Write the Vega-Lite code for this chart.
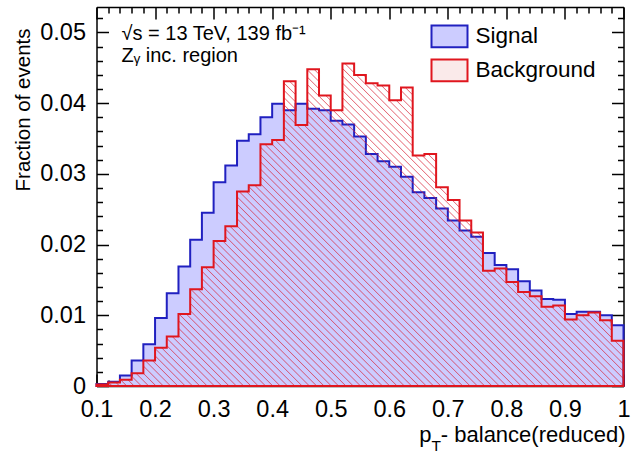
{
  "$schema": "https://vega.github.io/schema/vega-lite/v6.json",
  "width": 527,
  "height": 379,
  "autosize": {"type": "none"},
  "padding": {"left": 96.5, "top": 7, "right": 17.5, "bottom": 68},
  "config": {
    "view": {"stroke": null},
    "font": "Liberation Sans",
    "axis": {
      "grid": false,
      "zindex": 1,
      "tickColor": "black",
      "tickWidth": 1.5,
      "domainColor": "black",
      "domainWidth": 1.5,
      "labelFont": "Liberation Sans",
      "labelFontSize": 23.5,
      "labelColor": "black",
      "labelFlush": false,
      "labelOverlap": false,
      "titleFont": "Liberation Sans",
      "titleFontWeight": "normal",
      "titleColor": "black"
    },
    "legend": {
      "orient": "none",
      "legendX": 334,
      "legendY": 10.4,
      "padding": 0,
      "symbolType": "M-1,-0.6H1V0.6H-1Z",
      "symbolSize": 1296,
      "symbolStrokeWidth": 2,
      "symbolOpacity": 1,
      "rowPadding": -7.2,
      "labelOffset": 7,
      "labelFont": "Liberation Sans",
      "labelFontSize": 22.5,
      "labelColor": "black",
      "labelLimit": 0
    }
  },
  "title": {
    "text": ["√s = 13 TeV, 139 fb⁻¹", "Zᵧ inc. region"],
    "anchor": "start",
    "frame": "group",
    "baseline": "top",
    "offset": 0,
    "dx": 25,
    "dy": 60,
    "fontSize": 20,
    "fontWeight": "normal",
    "font": "Liberation Sans",
    "color": "black",
    "lineHeight": 22
  },
  "data": {
    "values": [
      {"x0": 0.10, "x1": 0.12, "Signal": 0.0003, "Background": 0.0002},
      {"x0": 0.12, "x1": 0.14, "Signal": 0.0006, "Background": 0.0005},
      {"x0": 0.14, "x1": 0.16, "Signal": 0.0015, "Background": 0.0009},
      {"x0": 0.16, "x1": 0.18, "Signal": 0.0036, "Background": 0.0018},
      {"x0": 0.18, "x1": 0.20, "Signal": 0.0059, "Background": 0.0036},
      {"x0": 0.20, "x1": 0.22, "Signal": 0.0096, "Background": 0.0054},
      {"x0": 0.22, "x1": 0.24, "Signal": 0.0131, "Background": 0.0070},
      {"x0": 0.24, "x1": 0.26, "Signal": 0.0169, "Background": 0.0102},
      {"x0": 0.26, "x1": 0.28, "Signal": 0.0207, "Background": 0.0137},
      {"x0": 0.28, "x1": 0.30, "Signal": 0.0245, "Background": 0.0168},
      {"x0": 0.30, "x1": 0.32, "Signal": 0.0288, "Background": 0.0205},
      {"x0": 0.32, "x1": 0.34, "Signal": 0.0312, "Background": 0.0226},
      {"x0": 0.34, "x1": 0.36, "Signal": 0.0347, "Background": 0.0275},
      {"x0": 0.36, "x1": 0.38, "Signal": 0.0356, "Background": 0.0284},
      {"x0": 0.38, "x1": 0.40, "Signal": 0.0380, "Background": 0.0342},
      {"x0": 0.40, "x1": 0.42, "Signal": 0.0399, "Background": 0.0348},
      {"x0": 0.42, "x1": 0.44, "Signal": 0.0390, "Background": 0.0431},
      {"x0": 0.44, "x1": 0.46, "Signal": 0.0399, "Background": 0.0369},
      {"x0": 0.46, "x1": 0.48, "Signal": 0.0392, "Background": 0.0448},
      {"x0": 0.48, "x1": 0.50, "Signal": 0.0390, "Background": 0.0411},
      {"x0": 0.50, "x1": 0.52, "Signal": 0.0375, "Background": 0.0390},
      {"x0": 0.52, "x1": 0.54, "Signal": 0.0370, "Background": 0.0456},
      {"x0": 0.54, "x1": 0.56, "Signal": 0.0353, "Background": 0.0440},
      {"x0": 0.56, "x1": 0.58, "Signal": 0.0328, "Background": 0.0428},
      {"x0": 0.58, "x1": 0.60, "Signal": 0.0318, "Background": 0.0425},
      {"x0": 0.60, "x1": 0.62, "Signal": 0.0310, "Background": 0.0404},
      {"x0": 0.62, "x1": 0.64, "Signal": 0.0296, "Background": 0.0422},
      {"x0": 0.64, "x1": 0.66, "Signal": 0.0274, "Background": 0.0326},
      {"x0": 0.66, "x1": 0.68, "Signal": 0.0266, "Background": 0.0328},
      {"x0": 0.68, "x1": 0.70, "Signal": 0.0251, "Background": 0.0281},
      {"x0": 0.70, "x1": 0.72, "Signal": 0.0234, "Background": 0.0263},
      {"x0": 0.72, "x1": 0.74, "Signal": 0.0220, "Background": 0.0234},
      {"x0": 0.74, "x1": 0.76, "Signal": 0.0211, "Background": 0.0217},
      {"x0": 0.76, "x1": 0.78, "Signal": 0.0188, "Background": 0.0163},
      {"x0": 0.78, "x1": 0.80, "Signal": 0.0171, "Background": 0.0166},
      {"x0": 0.80, "x1": 0.82, "Signal": 0.0165, "Background": 0.0147},
      {"x0": 0.82, "x1": 0.84, "Signal": 0.0148, "Background": 0.0133},
      {"x0": 0.84, "x1": 0.86, "Signal": 0.0135, "Background": 0.0127},
      {"x0": 0.86, "x1": 0.88, "Signal": 0.0123, "Background": 0.0112},
      {"x0": 0.88, "x1": 0.90, "Signal": 0.0122, "Background": 0.0114},
      {"x0": 0.90, "x1": 0.92, "Signal": 0.0102, "Background": 0.0094},
      {"x0": 0.92, "x1": 0.94, "Signal": 0.0105, "Background": 0.0100},
      {"x0": 0.94, "x1": 0.96, "Signal": 0.0105, "Background": 0.0104},
      {"x0": 0.96, "x1": 0.98, "Signal": 0.0100, "Background": 0.0093},
      {"x0": 0.98, "x1": 1.00, "Signal": 0.0086, "Background": 0.0064}
    ]
  },
  "transform": [
    {"fold": ["Signal", "Background"], "as": ["series", "frac"]},
    {"fold": ["x0", "x1"], "as": ["edge", "xpos"]}
  ],
  "layer": [
    {
      "transform": [{"filter": "datum.series === 'Signal'"}],
      "mark": {"type": "area", "strokeWidth": 2, "opacity": 1, "fillOpacity": 1},
      "encoding": {
        "x": {
          "field": "xpos", "type": "quantitative",
          "scale": {"domain": [0.1, 1], "nice": false, "zero": false},
          "axis": {
            "orient": "bottom",
            "values": [0.1, 0.2, 0.3, 0.4, 0.5, 0.6, 0.7, 0.8, 0.9, 1],
            "format": ".1~f",
            "tickSize": -12,
            "labelPadding": 23,
            "domain": true,
            "title": "- balance(reduced)",
            "titleX": 528.5,
            "titleY": 55,
            "titleAlign": "right",
            "titleBaseline": "alphabetic",
            "titleFontSize": 22
          }
        },
        "y": {
          "field": "frac", "type": "quantitative", "stack": null,
          "scale": {"domain": [0, 0.0536], "nice": false},
          "axis": {
            "orient": "left",
            "values": [0, 0.01, 0.02, 0.03, 0.04, 0.05],
            "format": ".2~f",
            "tickSize": -12,
            "labelPadding": 23,
            "domain": true,
            "title": "Fraction of events",
            "titleAngle": 270,
            "titleX": -67.5,
            "titleY": 21,
            "titleAlign": "right",
            "titleBaseline": "alphabetic",
            "titleFontSize": 20.5
          }
        },
        "stroke": {
          "field": "series", "type": "nominal",
          "scale": {"domain": ["Signal", "Background"], "range": ["#2020c0", "#e0161e"]},
          "legend": {"title": null}
        },
        "fill": {
          "field": "series", "type": "nominal",
          "scale": {"domain": ["Signal", "Background"], "range": ["#ccccff", "#faeaea"]},
          "legend": {"title": null}
        }
      }
    },
    {
      "transform": [{"filter": "datum.series === 'Background'"}],
      "mark": {
        "type": "area", "stroke": "#e0161e", "strokeWidth": 2, "opacity": 1,
        "fill": {
          "gradient": "linear", "x1": 0, "y1": 1, "x2": 1.0085, "y2": 0.383,
          "stops": [
            {"offset": 0, "color": "rgba(215,30,50,0)"}, {"offset": 0.0015, "color": "rgba(215,30,50,0.65)"}, {"offset": 0.003, "color": "rgba(215,30,50,0)"},
            {"offset": 0.01, "color": "rgba(215,30,50,0)"}, {"offset": 0.0115, "color": "rgba(215,30,50,0.65)"}, {"offset": 0.013, "color": "rgba(215,30,50,0)"},
            {"offset": 0.02, "color": "rgba(215,30,50,0)"}, {"offset": 0.0215, "color": "rgba(215,30,50,0.65)"}, {"offset": 0.023, "color": "rgba(215,30,50,0)"},
            {"offset": 0.03, "color": "rgba(215,30,50,0)"}, {"offset": 0.0315, "color": "rgba(215,30,50,0.65)"}, {"offset": 0.033, "color": "rgba(215,30,50,0)"},
            {"offset": 0.04, "color": "rgba(215,30,50,0)"}, {"offset": 0.0415, "color": "rgba(215,30,50,0.65)"}, {"offset": 0.043, "color": "rgba(215,30,50,0)"},
            {"offset": 0.05, "color": "rgba(215,30,50,0)"}, {"offset": 0.0515, "color": "rgba(215,30,50,0.65)"}, {"offset": 0.053, "color": "rgba(215,30,50,0)"},
            {"offset": 0.06, "color": "rgba(215,30,50,0)"}, {"offset": 0.0615, "color": "rgba(215,30,50,0.65)"}, {"offset": 0.063, "color": "rgba(215,30,50,0)"},
            {"offset": 0.07, "color": "rgba(215,30,50,0)"}, {"offset": 0.0715, "color": "rgba(215,30,50,0.65)"}, {"offset": 0.073, "color": "rgba(215,30,50,0)"},
            {"offset": 0.08, "color": "rgba(215,30,50,0)"}, {"offset": 0.0815, "color": "rgba(215,30,50,0.65)"}, {"offset": 0.083, "color": "rgba(215,30,50,0)"},
            {"offset": 0.09, "color": "rgba(215,30,50,0)"}, {"offset": 0.0915, "color": "rgba(215,30,50,0.65)"}, {"offset": 0.093, "color": "rgba(215,30,50,0)"},
            {"offset": 0.10, "color": "rgba(215,30,50,0)"}, {"offset": 0.1015, "color": "rgba(215,30,50,0.65)"}, {"offset": 0.103, "color": "rgba(215,30,50,0)"},
            {"offset": 0.11, "color": "rgba(215,30,50,0)"}, {"offset": 0.1115, "color": "rgba(215,30,50,0.65)"}, {"offset": 0.113, "color": "rgba(215,30,50,0)"},
            {"offset": 0.12, "color": "rgba(215,30,50,0)"}, {"offset": 0.1215, "color": "rgba(215,30,50,0.65)"}, {"offset": 0.123, "color": "rgba(215,30,50,0)"},
            {"offset": 0.13, "color": "rgba(215,30,50,0)"}, {"offset": 0.1315, "color": "rgba(215,30,50,0.65)"}, {"offset": 0.133, "color": "rgba(215,30,50,0)"},
            {"offset": 0.14, "color": "rgba(215,30,50,0)"}, {"offset": 0.1415, "color": "rgba(215,30,50,0.65)"}, {"offset": 0.143, "color": "rgba(215,30,50,0)"},
            {"offset": 0.15, "color": "rgba(215,30,50,0)"}, {"offset": 0.1515, "color": "rgba(215,30,50,0.65)"}, {"offset": 0.153, "color": "rgba(215,30,50,0)"},
            {"offset": 0.16, "color": "rgba(215,30,50,0)"}, {"offset": 0.1615, "color": "rgba(215,30,50,0.65)"}, {"offset": 0.163, "color": "rgba(215,30,50,0)"},
            {"offset": 0.17, "color": "rgba(215,30,50,0)"}, {"offset": 0.1715, "color": "rgba(215,30,50,0.65)"}, {"offset": 0.173, "color": "rgba(215,30,50,0)"},
            {"offset": 0.18, "color": "rgba(215,30,50,0)"}, {"offset": 0.1815, "color": "rgba(215,30,50,0.65)"}, {"offset": 0.183, "color": "rgba(215,30,50,0)"},
            {"offset": 0.19, "color": "rgba(215,30,50,0)"}, {"offset": 0.1915, "color": "rgba(215,30,50,0.65)"}, {"offset": 0.193, "color": "rgba(215,30,50,0)"},
            {"offset": 0.20, "color": "rgba(215,30,50,0)"}, {"offset": 0.2015, "color": "rgba(215,30,50,0.65)"}, {"offset": 0.203, "color": "rgba(215,30,50,0)"},
            {"offset": 0.21, "color": "rgba(215,30,50,0)"}, {"offset": 0.2115, "color": "rgba(215,30,50,0.65)"}, {"offset": 0.213, "color": "rgba(215,30,50,0)"},
            {"offset": 0.22, "color": "rgba(215,30,50,0)"}, {"offset": 0.2215, "color": "rgba(215,30,50,0.65)"}, {"offset": 0.223, "color": "rgba(215,30,50,0)"},
            {"offset": 0.23, "color": "rgba(215,30,50,0)"}, {"offset": 0.2315, "color": "rgba(215,30,50,0.65)"}, {"offset": 0.233, "color": "rgba(215,30,50,0)"},
            {"offset": 0.24, "color": "rgba(215,30,50,0)"}, {"offset": 0.2415, "color": "rgba(215,30,50,0.65)"}, {"offset": 0.243, "color": "rgba(215,30,50,0)"},
            {"offset": 0.25, "color": "rgba(215,30,50,0)"}, {"offset": 0.2515, "color": "rgba(215,30,50,0.65)"}, {"offset": 0.253, "color": "rgba(215,30,50,0)"},
            {"offset": 0.26, "color": "rgba(215,30,50,0)"}, {"offset": 0.2615, "color": "rgba(215,30,50,0.65)"}, {"offset": 0.263, "color": "rgba(215,30,50,0)"},
            {"offset": 0.27, "color": "rgba(215,30,50,0)"}, {"offset": 0.2715, "color": "rgba(215,30,50,0.65)"}, {"offset": 0.273, "color": "rgba(215,30,50,0)"},
            {"offset": 0.28, "color": "rgba(215,30,50,0)"}, {"offset": 0.2815, "color": "rgba(215,30,50,0.65)"}, {"offset": 0.283, "color": "rgba(215,30,50,0)"},
            {"offset": 0.29, "color": "rgba(215,30,50,0)"}, {"offset": 0.2915, "color": "rgba(215,30,50,0.65)"}, {"offset": 0.293, "color": "rgba(215,30,50,0)"},
            {"offset": 0.30, "color": "rgba(215,30,50,0)"}, {"offset": 0.3015, "color": "rgba(215,30,50,0.65)"}, {"offset": 0.303, "color": "rgba(215,30,50,0)"},
            {"offset": 0.31, "color": "rgba(215,30,50,0)"}, {"offset": 0.3115, "color": "rgba(215,30,50,0.65)"}, {"offset": 0.313, "color": "rgba(215,30,50,0)"},
            {"offset": 0.32, "color": "rgba(215,30,50,0)"}, {"offset": 0.3215, "color": "rgba(215,30,50,0.65)"}, {"offset": 0.323, "color": "rgba(215,30,50,0)"},
            {"offset": 0.33, "color": "rgba(215,30,50,0)"}, {"offset": 0.3315, "color": "rgba(215,30,50,0.65)"}, {"offset": 0.333, "color": "rgba(215,30,50,0)"},
            {"offset": 0.34, "color": "rgba(215,30,50,0)"}, {"offset": 0.3415, "color": "rgba(215,30,50,0.65)"}, {"offset": 0.343, "color": "rgba(215,30,50,0)"},
            {"offset": 0.35, "color": "rgba(215,30,50,0)"}, {"offset": 0.3515, "color": "rgba(215,30,50,0.65)"}, {"offset": 0.353, "color": "rgba(215,30,50,0)"},
            {"offset": 0.36, "color": "rgba(215,30,50,0)"}, {"offset": 0.3615, "color": "rgba(215,30,50,0.65)"}, {"offset": 0.363, "color": "rgba(215,30,50,0)"},
            {"offset": 0.37, "color": "rgba(215,30,50,0)"}, {"offset": 0.3715, "color": "rgba(215,30,50,0.65)"}, {"offset": 0.373, "color": "rgba(215,30,50,0)"},
            {"offset": 0.38, "color": "rgba(215,30,50,0)"}, {"offset": 0.3815, "color": "rgba(215,30,50,0.65)"}, {"offset": 0.383, "color": "rgba(215,30,50,0)"},
            {"offset": 0.39, "color": "rgba(215,30,50,0)"}, {"offset": 0.3915, "color": "rgba(215,30,50,0.65)"}, {"offset": 0.393, "color": "rgba(215,30,50,0)"},
            {"offset": 0.40, "color": "rgba(215,30,50,0)"}, {"offset": 0.4015, "color": "rgba(215,30,50,0.65)"}, {"offset": 0.403, "color": "rgba(215,30,50,0)"},
            {"offset": 0.41, "color": "rgba(215,30,50,0)"}, {"offset": 0.4115, "color": "rgba(215,30,50,0.65)"}, {"offset": 0.413, "color": "rgba(215,30,50,0)"},
            {"offset": 0.42, "color": "rgba(215,30,50,0)"}, {"offset": 0.4215, "color": "rgba(215,30,50,0.65)"}, {"offset": 0.423, "color": "rgba(215,30,50,0)"},
            {"offset": 0.43, "color": "rgba(215,30,50,0)"}, {"offset": 0.4315, "color": "rgba(215,30,50,0.65)"}, {"offset": 0.433, "color": "rgba(215,30,50,0)"},
            {"offset": 0.44, "color": "rgba(215,30,50,0)"}, {"offset": 0.4415, "color": "rgba(215,30,50,0.65)"}, {"offset": 0.443, "color": "rgba(215,30,50,0)"},
            {"offset": 0.45, "color": "rgba(215,30,50,0)"}, {"offset": 0.4515, "color": "rgba(215,30,50,0.65)"}, {"offset": 0.453, "color": "rgba(215,30,50,0)"},
            {"offset": 0.46, "color": "rgba(215,30,50,0)"}, {"offset": 0.4615, "color": "rgba(215,30,50,0.65)"}, {"offset": 0.463, "color": "rgba(215,30,50,0)"},
            {"offset": 0.47, "color": "rgba(215,30,50,0)"}, {"offset": 0.4715, "color": "rgba(215,30,50,0.65)"}, {"offset": 0.473, "color": "rgba(215,30,50,0)"},
            {"offset": 0.48, "color": "rgba(215,30,50,0)"}, {"offset": 0.4815, "color": "rgba(215,30,50,0.65)"}, {"offset": 0.483, "color": "rgba(215,30,50,0)"},
            {"offset": 0.49, "color": "rgba(215,30,50,0)"}, {"offset": 0.4915, "color": "rgba(215,30,50,0.65)"}, {"offset": 0.493, "color": "rgba(215,30,50,0)"},
            {"offset": 0.50, "color": "rgba(215,30,50,0)"}, {"offset": 0.5015, "color": "rgba(215,30,50,0.65)"}, {"offset": 0.503, "color": "rgba(215,30,50,0)"},
            {"offset": 0.51, "color": "rgba(215,30,50,0)"}, {"offset": 0.5115, "color": "rgba(215,30,50,0.65)"}, {"offset": 0.513, "color": "rgba(215,30,50,0)"},
            {"offset": 0.52, "color": "rgba(215,30,50,0)"}, {"offset": 0.5215, "color": "rgba(215,30,50,0.65)"}, {"offset": 0.523, "color": "rgba(215,30,50,0)"},
            {"offset": 0.53, "color": "rgba(215,30,50,0)"}, {"offset": 0.5315, "color": "rgba(215,30,50,0.65)"}, {"offset": 0.533, "color": "rgba(215,30,50,0)"},
            {"offset": 0.54, "color": "rgba(215,30,50,0)"}, {"offset": 0.5415, "color": "rgba(215,30,50,0.65)"}, {"offset": 0.543, "color": "rgba(215,30,50,0)"},
            {"offset": 0.55, "color": "rgba(215,30,50,0)"}, {"offset": 0.5515, "color": "rgba(215,30,50,0.65)"}, {"offset": 0.553, "color": "rgba(215,30,50,0)"},
            {"offset": 0.56, "color": "rgba(215,30,50,0)"}, {"offset": 0.5615, "color": "rgba(215,30,50,0.65)"}, {"offset": 0.563, "color": "rgba(215,30,50,0)"},
            {"offset": 0.57, "color": "rgba(215,30,50,0)"}, {"offset": 0.5715, "color": "rgba(215,30,50,0.65)"}, {"offset": 0.573, "color": "rgba(215,30,50,0)"},
            {"offset": 0.58, "color": "rgba(215,30,50,0)"}, {"offset": 0.5815, "color": "rgba(215,30,50,0.65)"}, {"offset": 0.583, "color": "rgba(215,30,50,0)"},
            {"offset": 0.59, "color": "rgba(215,30,50,0)"}, {"offset": 0.5915, "color": "rgba(215,30,50,0.65)"}, {"offset": 0.593, "color": "rgba(215,30,50,0)"},
            {"offset": 0.60, "color": "rgba(215,30,50,0)"}, {"offset": 0.6015, "color": "rgba(215,30,50,0.65)"}, {"offset": 0.603, "color": "rgba(215,30,50,0)"},
            {"offset": 0.61, "color": "rgba(215,30,50,0)"}, {"offset": 0.6115, "color": "rgba(215,30,50,0.65)"}, {"offset": 0.613, "color": "rgba(215,30,50,0)"},
            {"offset": 0.62, "color": "rgba(215,30,50,0)"}, {"offset": 0.6215, "color": "rgba(215,30,50,0.65)"}, {"offset": 0.623, "color": "rgba(215,30,50,0)"},
            {"offset": 0.63, "color": "rgba(215,30,50,0)"}, {"offset": 0.6315, "color": "rgba(215,30,50,0.65)"}, {"offset": 0.633, "color": "rgba(215,30,50,0)"},
            {"offset": 0.64, "color": "rgba(215,30,50,0)"}, {"offset": 0.6415, "color": "rgba(215,30,50,0.65)"}, {"offset": 0.643, "color": "rgba(215,30,50,0)"},
            {"offset": 0.65, "color": "rgba(215,30,50,0)"}, {"offset": 0.6515, "color": "rgba(215,30,50,0.65)"}, {"offset": 0.653, "color": "rgba(215,30,50,0)"},
            {"offset": 0.66, "color": "rgba(215,30,50,0)"}, {"offset": 0.6615, "color": "rgba(215,30,50,0.65)"}, {"offset": 0.663, "color": "rgba(215,30,50,0)"},
            {"offset": 0.67, "color": "rgba(215,30,50,0)"}, {"offset": 0.6715, "color": "rgba(215,30,50,0.65)"}, {"offset": 0.673, "color": "rgba(215,30,50,0)"},
            {"offset": 0.68, "color": "rgba(215,30,50,0)"}, {"offset": 0.6815, "color": "rgba(215,30,50,0.65)"}, {"offset": 0.683, "color": "rgba(215,30,50,0)"},
            {"offset": 0.69, "color": "rgba(215,30,50,0)"}, {"offset": 0.6915, "color": "rgba(215,30,50,0.65)"}, {"offset": 0.693, "color": "rgba(215,30,50,0)"},
            {"offset": 0.70, "color": "rgba(215,30,50,0)"}, {"offset": 0.7015, "color": "rgba(215,30,50,0.65)"}, {"offset": 0.703, "color": "rgba(215,30,50,0)"},
            {"offset": 0.71, "color": "rgba(215,30,50,0)"}, {"offset": 0.7115, "color": "rgba(215,30,50,0.65)"}, {"offset": 0.713, "color": "rgba(215,30,50,0)"},
            {"offset": 0.72, "color": "rgba(215,30,50,0)"}, {"offset": 0.7215, "color": "rgba(215,30,50,0.65)"}, {"offset": 0.723, "color": "rgba(215,30,50,0)"},
            {"offset": 0.73, "color": "rgba(215,30,50,0)"}, {"offset": 0.7315, "color": "rgba(215,30,50,0.65)"}, {"offset": 0.733, "color": "rgba(215,30,50,0)"},
            {"offset": 0.74, "color": "rgba(215,30,50,0)"}, {"offset": 0.7415, "color": "rgba(215,30,50,0.65)"}, {"offset": 0.743, "color": "rgba(215,30,50,0)"},
            {"offset": 0.75, "color": "rgba(215,30,50,0)"}, {"offset": 0.7515, "color": "rgba(215,30,50,0.65)"}, {"offset": 0.753, "color": "rgba(215,30,50,0)"},
            {"offset": 0.76, "color": "rgba(215,30,50,0)"}, {"offset": 0.7615, "color": "rgba(215,30,50,0.65)"}, {"offset": 0.763, "color": "rgba(215,30,50,0)"},
            {"offset": 0.77, "color": "rgba(215,30,50,0)"}, {"offset": 0.7715, "color": "rgba(215,30,50,0.65)"}, {"offset": 0.773, "color": "rgba(215,30,50,0)"},
            {"offset": 0.78, "color": "rgba(215,30,50,0)"}, {"offset": 0.7815, "color": "rgba(215,30,50,0.65)"}, {"offset": 0.783, "color": "rgba(215,30,50,0)"},
            {"offset": 0.79, "color": "rgba(215,30,50,0)"}, {"offset": 0.7915, "color": "rgba(215,30,50,0.65)"}, {"offset": 0.793, "color": "rgba(215,30,50,0)"},
            {"offset": 0.80, "color": "rgba(215,30,50,0)"}, {"offset": 0.8015, "color": "rgba(215,30,50,0.65)"}, {"offset": 0.803, "color": "rgba(215,30,50,0)"},
            {"offset": 0.81, "color": "rgba(215,30,50,0)"}, {"offset": 0.8115, "color": "rgba(215,30,50,0.65)"}, {"offset": 0.813, "color": "rgba(215,30,50,0)"},
            {"offset": 0.82, "color": "rgba(215,30,50,0)"}, {"offset": 0.8215, "color": "rgba(215,30,50,0.65)"}, {"offset": 0.823, "color": "rgba(215,30,50,0)"},
            {"offset": 0.83, "color": "rgba(215,30,50,0)"}, {"offset": 0.8315, "color": "rgba(215,30,50,0.65)"}, {"offset": 0.833, "color": "rgba(215,30,50,0)"},
            {"offset": 0.84, "color": "rgba(215,30,50,0)"}, {"offset": 0.8415, "color": "rgba(215,30,50,0.65)"}, {"offset": 0.843, "color": "rgba(215,30,50,0)"},
            {"offset": 0.85, "color": "rgba(215,30,50,0)"}, {"offset": 0.8515, "color": "rgba(215,30,50,0.65)"}, {"offset": 0.853, "color": "rgba(215,30,50,0)"},
            {"offset": 0.86, "color": "rgba(215,30,50,0)"}, {"offset": 0.8615, "color": "rgba(215,30,50,0.65)"}, {"offset": 0.863, "color": "rgba(215,30,50,0)"},
            {"offset": 0.87, "color": "rgba(215,30,50,0)"}, {"offset": 0.8715, "color": "rgba(215,30,50,0.65)"}, {"offset": 0.873, "color": "rgba(215,30,50,0)"},
            {"offset": 0.88, "color": "rgba(215,30,50,0)"}, {"offset": 0.8815, "color": "rgba(215,30,50,0.65)"}, {"offset": 0.883, "color": "rgba(215,30,50,0)"},
            {"offset": 0.89, "color": "rgba(215,30,50,0)"}, {"offset": 0.8915, "color": "rgba(215,30,50,0.65)"}, {"offset": 0.893, "color": "rgba(215,30,50,0)"},
            {"offset": 0.90, "color": "rgba(215,30,50,0)"}, {"offset": 0.9015, "color": "rgba(215,30,50,0.65)"}, {"offset": 0.903, "color": "rgba(215,30,50,0)"},
            {"offset": 0.91, "color": "rgba(215,30,50,0)"}, {"offset": 0.9115, "color": "rgba(215,30,50,0.65)"}, {"offset": 0.913, "color": "rgba(215,30,50,0)"},
            {"offset": 0.92, "color": "rgba(215,30,50,0)"}, {"offset": 0.9215, "color": "rgba(215,30,50,0.65)"}, {"offset": 0.923, "color": "rgba(215,30,50,0)"},
            {"offset": 0.93, "color": "rgba(215,30,50,0)"}, {"offset": 0.9315, "color": "rgba(215,30,50,0.65)"}, {"offset": 0.933, "color": "rgba(215,30,50,0)"},
            {"offset": 0.94, "color": "rgba(215,30,50,0)"}, {"offset": 0.9415, "color": "rgba(215,30,50,0.65)"}, {"offset": 0.943, "color": "rgba(215,30,50,0)"},
            {"offset": 0.95, "color": "rgba(215,30,50,0)"}, {"offset": 0.9515, "color": "rgba(215,30,50,0.65)"}, {"offset": 0.953, "color": "rgba(215,30,50,0)"},
            {"offset": 0.96, "color": "rgba(215,30,50,0)"}, {"offset": 0.9615, "color": "rgba(215,30,50,0.65)"}, {"offset": 0.963, "color": "rgba(215,30,50,0)"},
            {"offset": 0.97, "color": "rgba(215,30,50,0)"}, {"offset": 0.9715, "color": "rgba(215,30,50,0.65)"}, {"offset": 0.973, "color": "rgba(215,30,50,0)"},
            {"offset": 0.98, "color": "rgba(215,30,50,0)"}, {"offset": 0.9815, "color": "rgba(215,30,50,0.65)"}, {"offset": 0.983, "color": "rgba(215,30,50,0)"},
            {"offset": 0.99, "color": "rgba(215,30,50,0)"}, {"offset": 0.9915, "color": "rgba(215,30,50,0.65)"}, {"offset": 0.993, "color": "rgba(215,30,50,0)"}
          ]
        }
      },
      "encoding": {
        "x": {
          "field": "xpos", "type": "quantitative",
          "axis": {
            "orient": "bottom",
            "values": [0.12, 0.14, 0.16, 0.18, 0.22, 0.24, 0.26, 0.28, 0.32, 0.34, 0.36, 0.38, 0.42, 0.44, 0.46, 0.48, 0.52, 0.54, 0.56, 0.58, 0.62, 0.64, 0.66, 0.68, 0.72, 0.74, 0.76, 0.78, 0.82, 0.84, 0.86, 0.88, 0.92, 0.94, 0.96, 0.98],
            "tickSize": -6,
            "labels": false,
            "domain": false,
            "title": "p",
            "titleX": 334.4,
            "titleY": 55,
            "titleAlign": "right",
            "titleBaseline": "alphabetic",
            "titleFontSize": 22
          }
        },
        "y": {
          "field": "frac", "type": "quantitative", "stack": null,
          "axis": {
            "orient": "left",
            "values": [0.002, 0.004, 0.006, 0.008, 0.012, 0.014, 0.016, 0.018, 0.022, 0.024, 0.026, 0.028, 0.032, 0.034, 0.036, 0.038, 0.042, 0.044, 0.046, 0.048, 0.052],
            "tickSize": -6,
            "labels": false,
            "domain": false,
            "title": null
          }
        }
      }
    },
    {
      "transform": [{"filter": "datum.series === 'Background'"}],
      "mark": {"type": "area", "opacity": 0},
      "encoding": {
        "x": {
          "field": "xpos", "type": "quantitative",
          "axis": {
            "orient": "top",
            "values": [0.1, 0.2, 0.3, 0.4, 0.5, 0.6, 0.7, 0.8, 0.9, 1],
            "tickSize": -12,
            "labels": false,
            "domain": true,
            "title": "T",
            "titleX": 334.6,
            "titleY": 443,
            "titleAlign": "left",
            "titleBaseline": "alphabetic",
            "titleFontSize": 15.5
          }
        },
        "y": {
          "field": "frac", "type": "quantitative", "stack": null,
          "axis": {
            "orient": "right",
            "values": [0, 0.01, 0.02, 0.03, 0.04, 0.05],
            "tickSize": -12,
            "labels": false,
            "domain": true,
            "title": null
          }
        }
      }
    },
    {
      "transform": [{"filter": "datum.series === 'Background'"}],
      "mark": {"type": "area", "opacity": 0},
      "encoding": {
        "x": {
          "field": "xpos", "type": "quantitative",
          "axis": {
            "orient": "top",
            "values": [0.12, 0.14, 0.16, 0.18, 0.22, 0.24, 0.26, 0.28, 0.32, 0.34, 0.36, 0.38, 0.42, 0.44, 0.46, 0.48, 0.52, 0.54, 0.56, 0.58, 0.62, 0.64, 0.66, 0.68, 0.72, 0.74, 0.76, 0.78, 0.82, 0.84, 0.86, 0.88, 0.92, 0.94, 0.96, 0.98],
            "tickSize": -6,
            "labels": false,
            "domain": false,
            "title": null
          }
        },
        "y": {
          "field": "frac", "type": "quantitative", "stack": null,
          "axis": {
            "orient": "right",
            "values": [0.002, 0.004, 0.006, 0.008, 0.012, 0.014, 0.016, 0.018, 0.022, 0.024, 0.026, 0.028, 0.032, 0.034, 0.036, 0.038, 0.042, 0.044, 0.046, 0.048, 0.052],
            "tickSize": -6,
            "labels": false,
            "domain": false,
            "title": null
          }
        }
      }
    }
  ],
  "resolve": {"axis": {"x": "independent", "y": "independent"}}
}
